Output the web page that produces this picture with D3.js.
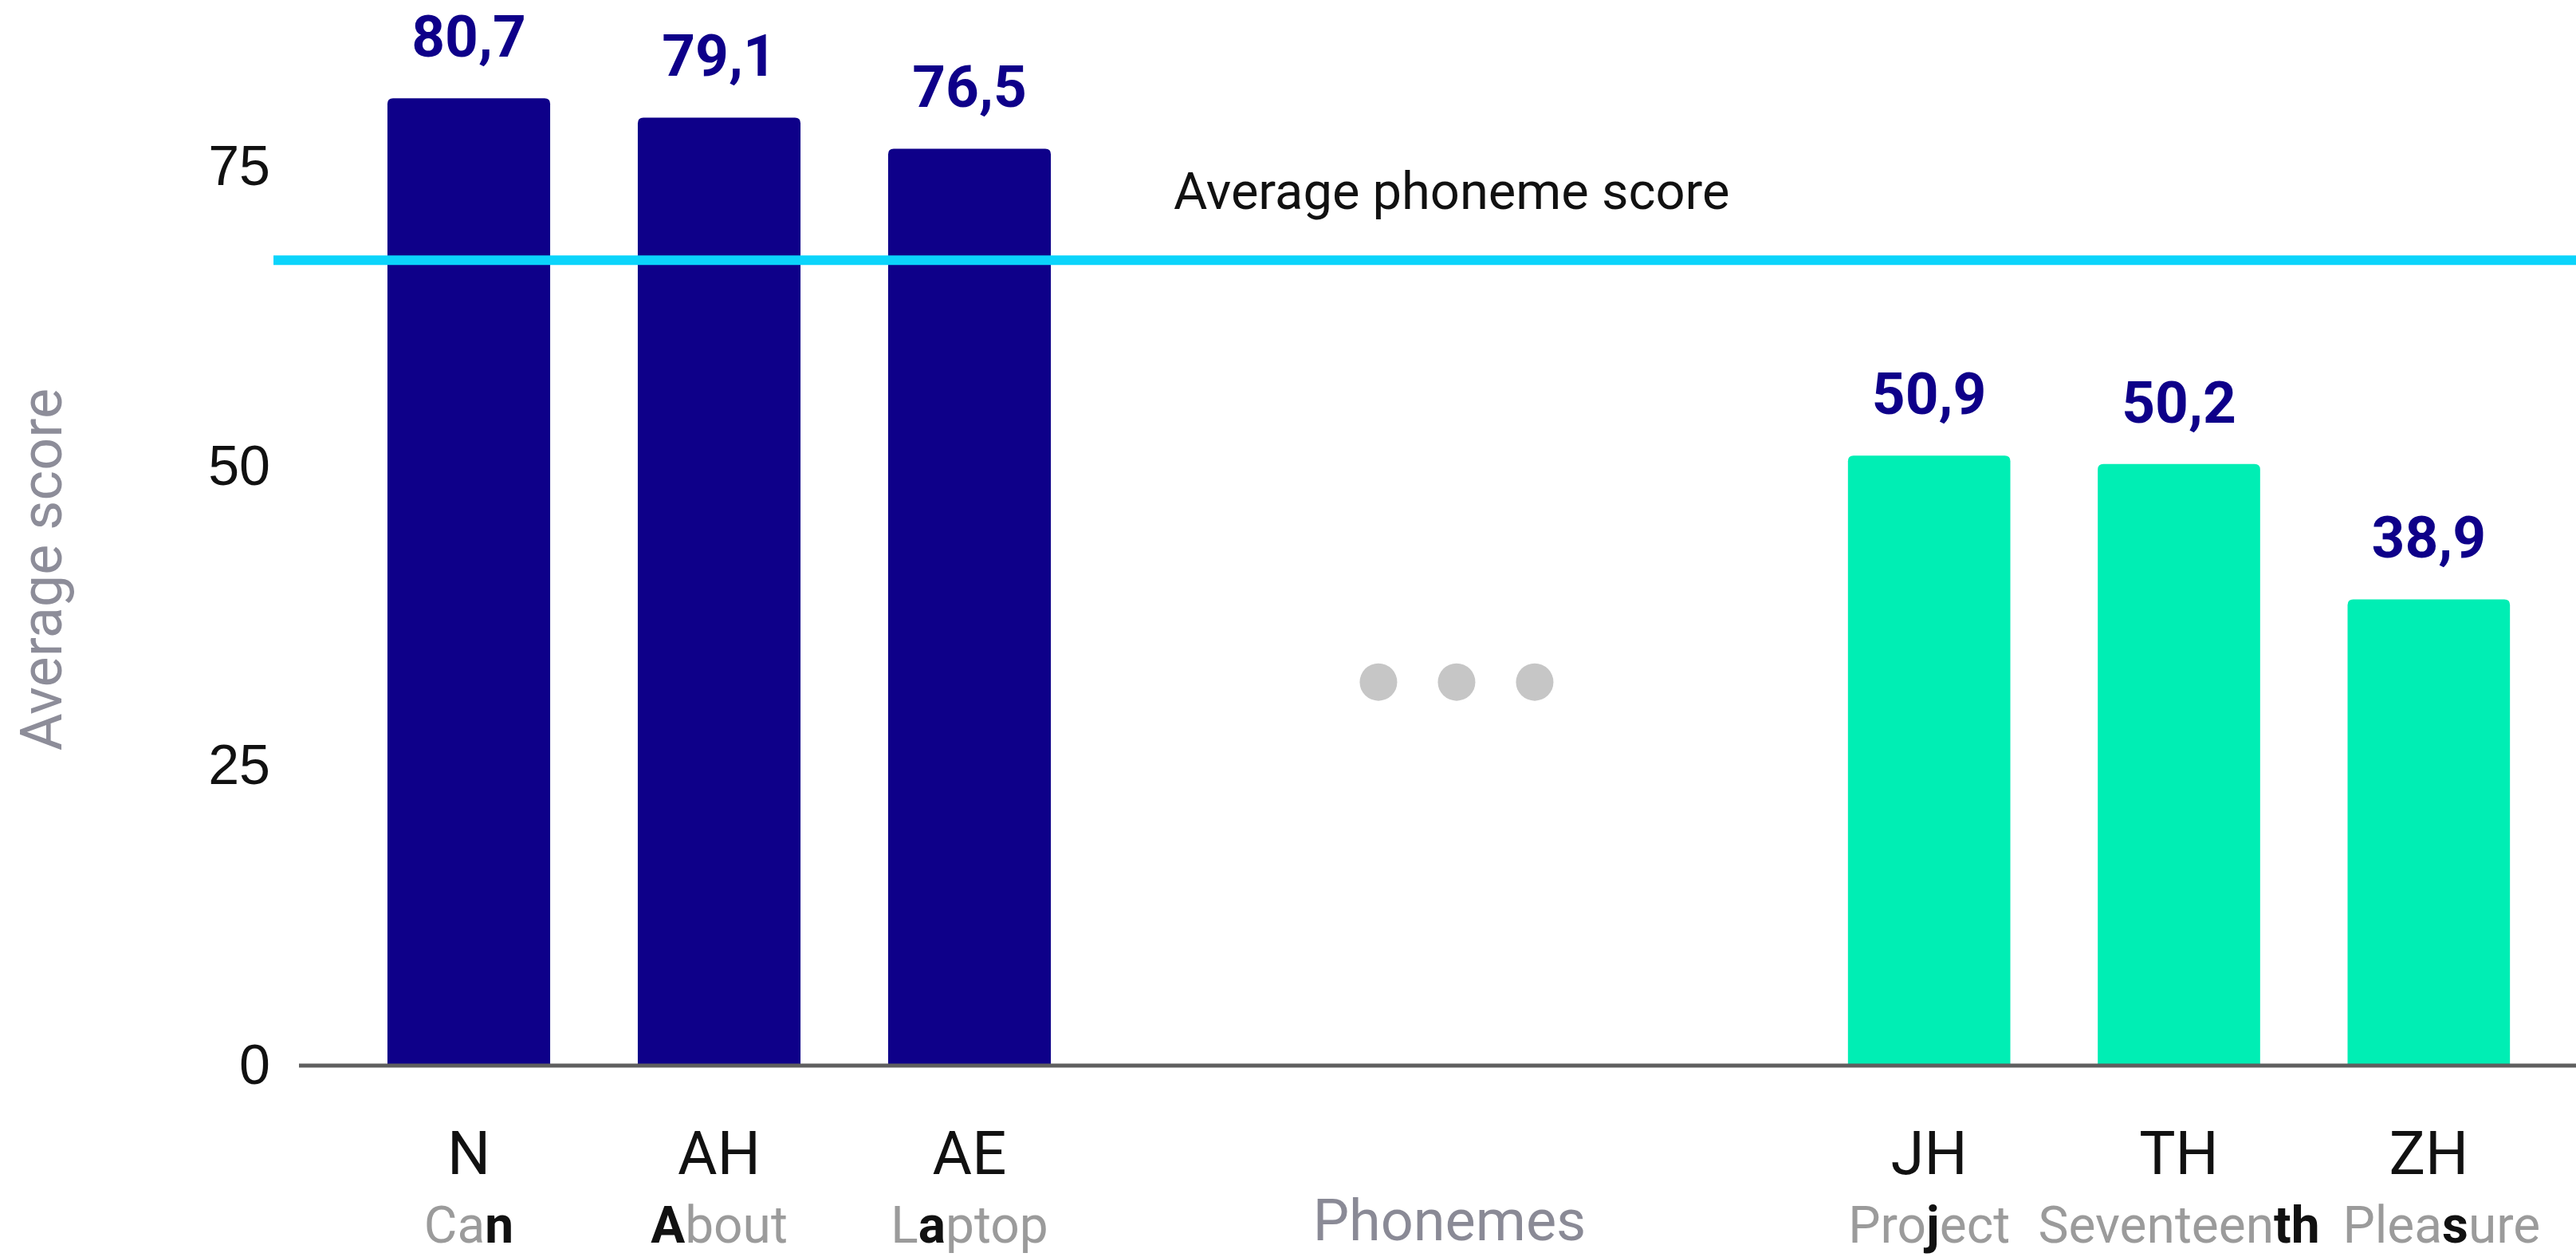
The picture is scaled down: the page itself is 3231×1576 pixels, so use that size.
<!DOCTYPE html>
<html lang="en">
<head>
<meta charset="utf-8">
<title>Average phoneme score</title>
<script src="https://d3js.org/d3.v7.min.js"></script>
<style>
  html, body { margin: 0; padding: 0; background: #fff; }
  svg { display: block; font-family: Roboto, "Noto Sans", sans-serif; }
  .tick text { fill: #111; font-size: 70px; }
</style>
</head>
<body>
<script>
// best phonemes (left) and worst phonemes (right)
var bestPhonemes = ["N", "AH", "AE"],
    bestScores = [80.7, 79.1, 76.5],
    bestWords = [["Ca", "n", ""], ["", "A", "bout"], ["L", "a", "ptop"]];

var worstPhonemes = ["JH", "TH", "ZH"],
    worstScores = [50.9, 50.2, 38.9],
    worstWords = [["Pro", "j", "ect"], ["Seventeen", "th", ""], ["Plea", "s", "ure"]];

var averageScore = 67.2;
var yTicks = [0, 25, 50, 75];

var width = 3231, height = 1576;
var navy = "#0e0089", green = "#00eeb4", cyan = "#0bd4fb";

var svg = d3.select("body").append("svg")
    .attr("width", width).attr("height", height);

var y = d3.scaleLinear().domain([0, 75]).range([1336, 209]);

var xBest = d3.scaleBand().domain(bestPhonemes).range([431, 1373]).paddingInner(0.35).paddingOuter(0.175);
var xWorst = d3.scaleBand().domain(worstPhonemes).range([2263, 3203]).paddingInner(0.35).paddingOuter(0.175);

// y axis
svg.append("g")
    .attr("transform", "translate(339,0)")
    .call(d3.axisLeft(y).tickValues(yTicks).tickSize(0).tickPadding(0))
    .call(function(g) { g.select(".domain").remove(); });

svg.append("text")
    .attr("transform", "translate(77," + 714 + ") rotate(-90)")
    .attr("text-anchor", "middle")
    .style("font-size", "72px")
    .style("fill", "#8d8d99")
    .text("Average score");

function topRounded(x, yTop, w, yBase, r) {
    return "M" + x + "," + yBase +
        "V" + (yTop + r) +
        "Q" + x + "," + yTop + " " + (x + r) + "," + yTop +
        "H" + (x + w - r) +
        "Q" + (x + w) + "," + yTop + " " + (x + w) + "," + (yTop + r) +
        "V" + yBase + "Z";
}

// lastShift nudges the last example word so it clears its neighbour
function drawGroup(cats, scores, words, x, color, lastShift) {
    var data = cats.map(function(c, i) { return { cat: c, score: scores[i], word: words[i] }; });
    var g = svg.append("g");

    g.selectAll(".bar").data(data).enter().append("path")
        .attr("class", "bar")
        .attr("fill", color)
        .attr("d", function(d) { return topRounded(x(d.cat), y(d.score), x.bandwidth(), y(0), 7); });

    g.selectAll(".val").data(data).enter().append("text")
        .attr("class", "val")
        .attr("x", function(d) { return x(d.cat) + x.bandwidth() / 2; })
        .attr("y", function(d) { return y(d.score) - 52; })
        .attr("text-anchor", "middle")
        .style("font-size", "73px")
        .style("font-weight", "bold")
        .style("fill", navy)
        .text(function(d) { return d3.format(".1f")(d.score).replace(".", ","); });

    g.selectAll(".cat").data(data).enter().append("text")
        .attr("class", "cat")
        .attr("x", function(d) { return x(d.cat) + x.bandwidth() / 2; })
        .attr("y", 1472)
        .attr("text-anchor", "middle")
        .style("font-size", "76px")
        .style("fill", "#111")
        .text(function(d) { return d.cat; });

    var w = g.selectAll(".word").data(data).enter().append("text")
        .attr("class", "word")
        .attr("x", function(d, i) { return x(d.cat) + x.bandwidth() / 2 + (i === data.length - 1 ? lastShift : 0); })
        .attr("y", 1558)
        .attr("text-anchor", "middle")
        .style("font-size", "64px");
    w.each(function(d) {
        var t = d3.select(this);
        d.word.forEach(function(part, i) {
            if (!part) return;
            t.append("tspan")
                .style("fill", i === 1 ? "#111" : "#9b9b9b")
                .style("font-weight", i === 1 ? "bold" : "normal")
                .text(part);
        });
    });
}

drawGroup(bestPhonemes, bestScores, bestWords, xBest, navy, 0);
drawGroup(worstPhonemes, worstScores, worstWords, xWorst, green, 16);

// baseline
svg.append("line")
    .attr("x1", 375).attr("x2", width)
    .attr("y1", y(0)).attr("y2", y(0))
    .attr("stroke", "#5f5f5f").attr("stroke-width", 5);

// average line
svg.append("line")
    .attr("x1", 343).attr("x2", width)
    .attr("y1", y(averageScore)).attr("y2", y(averageScore))
    .attr("stroke", cyan).attr("stroke-width", 12);

svg.append("text")
    .attr("x", 1472).attr("y", 262)
    .style("font-size", "65px")
    .style("fill", "#111")
    .text("Average phoneme score");

// ellipsis between the two groups
var gapMid = (xBest(bestPhonemes[2]) + xBest.bandwidth() + xWorst(worstPhonemes[0])) / 2;
svg.selectAll(".dot").data([-1, 0, 1]).enter().append("circle")
    .attr("class", "dot")
    .attr("cx", function(d) { return gapMid + 9 + d * 98; })
    .attr("cy", y(32))
    .attr("r", 23.5)
    .attr("fill", "#c6c6c6");

svg.append("text")
    .attr("x", gapMid).attr("y", 1555)
    .attr("text-anchor", "middle")
    .style("font-size", "72px")
    .style("fill", "#8a8a96")
    .text("Phonemes");
</script>
</body>
</html>
